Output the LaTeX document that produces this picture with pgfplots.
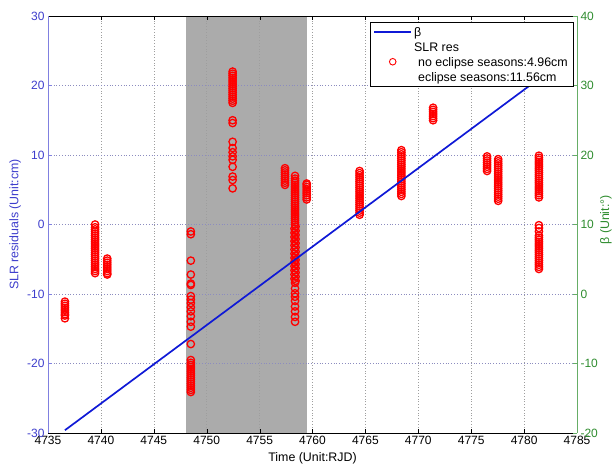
\documentclass[border=0pt]{standalone}
\usepackage{fontspec}
\setmainfont{Liberation Sans}
\usepackage{pgfplots}
\pgfplotsset{compat=1.18}

\definecolor{resblue}{rgb}{0.24,0.24,0.80}
\definecolor{spineblue}{rgb}{0.50,0.50,0.88}
\definecolor{betagreen}{rgb}{0.18,0.55,0.18}
\definecolor{spinegreen}{rgb}{0.40,0.68,0.40}
\definecolor{eclipse}{rgb}{0.67,0.67,0.67}
\definecolor{betaline}{rgb}{0.06,0.10,0.84}
\definecolor{hgrid}{rgb}{0.55,0.55,0.75}
\definecolor{vgrid}{rgb}{0.62,0.62,0.62}

\pgfplotsset{
  slr/.style={only marks, mark=o, mark size=3.7pt, red, line width=1.3pt},
  betaleg/.style={legend image code/.code={\draw[##1] (0pt,0pt) -- (37pt,0pt);}},
  slrleg/.style={legend image code/.code={\path[##1] plot coordinates {(18.5pt,0pt)};}},
  frame/.style={
    at={(0,0)}, anchor=south west,
    scale only axis, width=529pt, height=417pt,
    xmin=4735, xmax=4785,
    scaled x ticks=false, scaled y ticks=false,
    /pgf/number format/assume math mode=true,
    /pgf/number format/1000 sep={},
    tick label style={font=\fontsize{12}{13}\selectfont},
    major tick length=4pt,
    tick align=inside,
  },
}

\begin{document}
\begin{tikzpicture}
% residual axis (left)
\begin{axis}[frame, set layers,
  ymin=-30, ymax=30,
  xtick={4735,4740,...,4785},
  ytick={-30,-20,...,30},
  axis y line*=left,
  x axis line style={black, line width=0.5pt},
  y axis line style={spineblue, line width=0.6pt},
  xtick style={black},
  ytick style={spineblue},
  yticklabel style={text=resblue},
  grid=major,
  x grid style={vgrid, line width=0.6pt, dash pattern=on 0.8pt off 2pt},
  y grid style={hgrid, line width=0.6pt, dash pattern=on 0.8pt off 2pt},
  xlabel={Time (Unit:RJD)},
  ylabel={SLR residuals (Unit:cm)},
  every axis x label/.style={at={(axis description cs:0.5,-0.06)}, anchor=center,
    font=\fontsize{12.4}{14}\selectfont},
  every axis y label/.style={at={(axis description cs:-0.062,0.5)}, anchor=center, rotate=90,
    text=resblue, font=\fontsize{12.4}{14}\selectfont},
]
% eclipse season
\addplot[fill=eclipse, draw=none, on layer=axis background]
  coordinates {(4748,-30) (4748,30) (4759.5,30) (4759.5,-30)} -- cycle;

% SLR residuals, one pass per plot
\addplot[slr] coordinates {(4736.6,-11.1)(4736.6,-11.4)(4736.6,-11.7)(4736.6,-12.0)(4736.6,-12.3)(4736.6,-12.6)(4736.6,-12.9)(4736.6,-13.1)(4736.6,-13.5)};
\addplot[slr] coordinates {(4739.45,0.0)(4739.45,-0.4)(4739.45,-0.7)(4739.45,-1.0)(4739.45,-1.3)(4739.45,-1.6)(4739.45,-1.9)(4739.45,-2.2)(4739.45,-2.5)(4739.45,-2.8)(4739.45,-3.1)(4739.45,-3.4)(4739.45,-3.7)(4739.45,-4.0)(4739.45,-4.3)(4739.45,-4.6)(4739.45,-4.9)(4739.45,-5.2)(4739.45,-5.5)(4739.45,-5.8)(4739.45,-6.1)(4739.45,-6.4)(4739.45,-6.7)(4739.45,-7.0)};
\addplot[slr] coordinates {(4740.6,-4.9)(4740.6,-5.2)(4740.6,-5.5)(4740.6,-5.8)(4740.6,-6.1)(4740.6,-6.4)(4740.6,-6.7)(4740.6,-7.0)(4740.6,-7.2)};
\addplot[slr] coordinates {(4748.5,-1.0)(4748.5,-1.4)(4748.5,-5.2)(4748.5,-7.2)(4748.5,-8.5)(4748.5,-8.7)(4748.5,-10.3)(4748.5,-10.8)(4748.5,-11.3)(4748.5,-11.9)(4748.5,-12.5)(4748.5,-13.2)(4748.5,-14.0)(4748.5,-14.7)(4748.5,-17.2)(4748.5,-19.5)
  (4748.5,-19.9)(4748.5,-20.2)(4748.5,-20.5)(4748.5,-20.8)(4748.5,-21.1)(4748.5,-21.4)(4748.5,-21.7)(4748.5,-22.0)(4748.5,-22.3)(4748.5,-22.6)(4748.5,-22.9)(4748.5,-23.2)(4748.5,-23.5)(4748.5,-23.8)(4748.5,-24.1)};
\addplot[slr] coordinates {(4752.45,22.0)(4752.45,21.7)(4752.45,21.4)(4752.45,21.1)(4752.45,20.8)(4752.45,20.5)(4752.45,20.2)(4752.45,19.9)(4752.45,19.6)(4752.45,19.3)(4752.45,19.0)(4752.45,18.7)(4752.45,18.4)(4752.45,18.1)(4752.45,17.8)(4752.45,17.5)
  (4752.45,15.0)(4752.45,14.6)(4752.45,11.9)(4752.45,11.0)(4752.45,10.4)(4752.45,9.8)(4752.45,9.3)(4752.45,8.3)(4752.45,6.9)(4752.45,6.4)(4752.45,5.2)};
\addplot[slr] coordinates {(4757.4,5.7)(4757.4,6.0)(4757.4,6.3)(4757.4,6.6)(4757.4,6.9)(4757.4,7.2)(4757.4,7.5)(4757.4,7.8)(4757.4,8.1)};
\addplot[slr] coordinates {(4758.35,7.0)(4758.35,6.6)(4758.35,6.3)(4758.35,6.0)(4758.35,5.7)(4758.35,5.4)(4758.35,5.1)(4758.35,4.8)(4758.35,4.5)(4758.35,4.2)(4758.35,3.9)(4758.35,3.6)(4758.35,3.3)(4758.35,3.0)(4758.35,2.7)(4758.35,2.4)(4758.35,2.1)(4758.35,1.8)(4758.35,1.5)(4758.35,1.2)(4758.35,0.9)(4758.35,0.6)(4758.35,0.3)(4758.35,0.0)
  (4758.4,-0.3)(4758.3,-0.6)(4758.4,-0.9)(4758.3,-1.2)(4758.4,-1.5)(4758.3,-1.8)(4758.4,-2.1)(4758.3,-2.4)(4758.4,-2.7)(4758.3,-3.0)(4758.4,-3.3)(4758.3,-3.6)(4758.4,-3.9)(4758.3,-4.2)(4758.4,-4.5)(4758.3,-4.8)(4758.4,-5.1)(4758.3,-5.4)(4758.4,-5.7)(4758.3,-6.0)(4758.4,-6.3)(4758.3,-6.6)(4758.4,-6.9)(4758.3,-7.2)(4758.4,-7.5)(4758.3,-7.8)(4758.4,-8.1)(4758.35,-8.4)
  (4758.35,-9.2)(4758.35,-9.9)(4758.35,-10.4)(4758.35,-11.0)(4758.35,-11.8)(4758.35,-12.5)(4758.35,-13.3)(4758.35,-14.0)};
\addplot[slr] coordinates {(4759.45,3.6)(4759.45,3.9)(4759.45,4.2)(4759.45,4.5)(4759.45,4.8)(4759.45,5.1)(4759.45,5.4)(4759.45,5.7)(4759.45,5.9)};
\addplot[slr] coordinates {(4764.45,1.4)(4764.45,1.7)(4764.45,2.0)(4764.45,2.3)(4764.45,2.6)(4764.45,2.9)(4764.45,3.2)(4764.45,3.5)(4764.45,3.8)(4764.45,4.1)(4764.45,4.4)(4764.45,4.7)(4764.45,5.0)(4764.45,5.3)(4764.45,5.6)(4764.45,5.9)(4764.45,6.2)(4764.45,6.5)(4764.45,6.8)(4764.45,7.1)(4764.45,7.4)(4764.45,7.7)};
\addplot[slr] coordinates {(4768.4,4.1)(4768.4,4.4)(4768.4,4.7)(4768.4,5.0)(4768.4,5.3)(4768.4,5.6)(4768.4,5.9)(4768.4,6.2)(4768.4,6.5)(4768.4,6.8)(4768.4,7.1)(4768.4,7.4)(4768.4,7.7)(4768.4,8.0)(4768.4,8.3)(4768.4,8.6)(4768.4,8.9)(4768.4,9.2)(4768.4,9.5)(4768.4,9.8)(4768.4,10.1)(4768.4,10.4)(4768.4,10.7)};
\addplot[slr] coordinates {(4771.4,15.0)(4771.4,15.3)(4771.4,15.6)(4771.4,15.9)(4771.4,16.2)(4771.4,16.5)(4771.4,16.8)};
\addplot[slr] coordinates {(4776.5,7.7)(4776.5,8.0)(4776.5,8.3)(4776.5,8.6)(4776.5,8.9)(4776.5,9.2)(4776.5,9.5)(4776.5,9.8)};
\addplot[slr] coordinates {(4777.55,3.4)(4777.55,3.7)(4777.55,4.0)(4777.55,4.3)(4777.55,4.6)(4777.55,4.9)(4777.55,5.2)(4777.55,5.5)(4777.55,5.8)(4777.55,6.1)(4777.55,6.4)(4777.55,6.7)(4777.55,7.0)(4777.55,7.3)(4777.55,7.6)(4777.55,7.9)(4777.55,8.2)(4777.55,8.5)(4777.55,8.8)(4777.55,9.1)(4777.55,9.4)};
\addplot[slr] coordinates {(4781.4,3.9)(4781.4,4.2)(4781.4,4.5)(4781.4,4.8)(4781.4,5.1)(4781.4,5.4)(4781.4,5.7)(4781.4,6.0)(4781.4,6.3)(4781.4,6.6)(4781.4,6.9)(4781.4,7.2)(4781.4,7.5)(4781.4,7.8)(4781.4,8.1)(4781.4,8.4)(4781.4,8.7)(4781.4,9.0)(4781.4,9.3)(4781.4,9.6)(4781.4,9.9)
  (4781.4,-0.1)(4781.4,-0.5)(4781.4,-1.0)(4781.4,-1.6)(4781.4,-1.9)(4781.4,-2.2)(4781.4,-2.5)(4781.4,-2.8)(4781.4,-3.1)(4781.4,-3.4)(4781.4,-3.7)(4781.4,-4.0)(4781.4,-4.3)(4781.4,-4.6)(4781.4,-4.9)(4781.4,-5.2)(4781.4,-5.5)(4781.4,-5.8)(4781.4,-6.1)(4781.4,-6.4)};
\end{axis}

% beta angle axis (right)
\begin{axis}[frame,
  ymin=-20, ymax=40,
  ytick={-20,-10,...,40},
  axis x line=none,
  axis y line*=right,
  y axis line style={spinegreen, line width=0.6pt},
  ytick style={spinegreen},
  yticklabel style={text=betagreen},
  ylabel={β (Unit:°)},
  every axis y label/.style={at={(axis description cs:1.0548,0.511)}, anchor=center, rotate=90,
    text=betagreen, font=\fontsize{12.4}{14}\selectfont},
  legend cell align=left,
  legend style={at={(1,1)}, anchor=north east, xshift=-4pt, yshift=-6pt,
    draw=black, line width=0.5pt, fill=white,
    font=\fontsize{12.4}{14}\selectfont,
    inner xsep=3pt, inner ysep=2pt, row sep=0pt,
    nodes={inner ysep=1.5pt, text height=11pt, text depth=1pt}},
]
\addplot[betaline, line width=1.7pt, forget plot]
  coordinates {(4736.6,-19.6) (4781.6,31.2)};
\addlegendimage{betaline, line width=1.9pt, betaleg}
\addlegendentry{β}
\addlegendimage{empty legend}
\addlegendentry{SLR res}
\addlegendimage{slr, mark size=3.3pt, line width=0.9pt, slrleg}
\addlegendentry{\hspace{4pt}no eclipse seasons:4.96cm}
\addlegendimage{empty legend}
\addlegendentry{\hspace{4pt}eclipse seasons:11.56cm}
\end{axis}

\pgfresetboundingbox
\path[use as bounding box] (-48pt,-33pt) rectangle (568pt,433pt);
\end{tikzpicture}
\end{document}
